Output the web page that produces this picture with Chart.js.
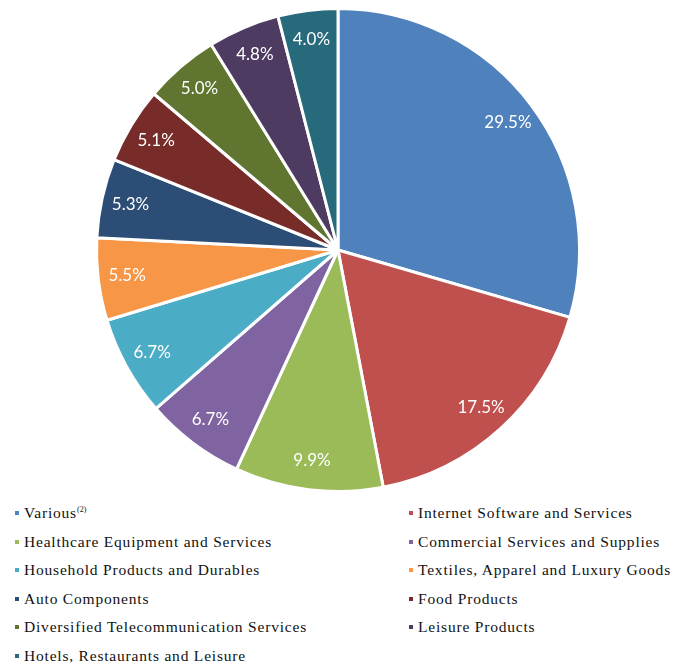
<!DOCTYPE html>
<html>
<head>
<meta charset="utf-8">
<script src="https://cdn.jsdelivr.net/npm/chart.js@4"></script>
<style>
  html, body { margin: 0; padding: 0; background: #fff; }
  #wrap { position: relative; width: 692px; height: 670px; }
  #pieBox { position: absolute; left: 0; top: 0; width: 692px; height: 500px; }
  #legend { position: absolute; left: 0; top: 500px; width: 692px; font-family: "Liberation Serif", "Times New Roman", serif; font-size: 15.5px; letter-spacing: 0.8px; color: #111; }
  .lg { position: absolute; white-space: nowrap; line-height: 18px; height: 18px; }
  .lg i { position: absolute; left: -9px; top: 7px; width: 4px; height: 4px; }
  .lg sup { font-size: 8px; line-height: 0; position: relative; top: -6px; vertical-align: baseline; letter-spacing: 0; }
</style>
</head>
<body>
<div id="wrap">
  <div id="pieBox"><canvas id="pie" width="692" height="500"></canvas></div>
  <div id="legend"></div>
</div>
<script>
var sectors = [
  "Various", "Internet Software and Services", "Healthcare Equipment and Services",
  "Commercial Services and Supplies", "Household Products and Durables",
  "Textiles, Apparel and Luxury Goods", "Auto Components", "Food Products",
  "Diversified Telecommunication Services", "Leisure Products", "Hotels, Restaurants and Leisure"
];
var shares = [29.5, 17.5, 9.9, 6.7, 6.7, 5.5, 5.3, 5.1, 5.0, 4.8, 4.0];
var colors = ["#4f81bd", "#c0504d", "#9bbb59", "#8064a2", "#4bacc6", "#f79646",
              "#2c4d75", "#772c2a", "#5f7530", "#4d3b62", "#276a7c"];

// labels drawn inside each slice near the rim
var sliceLabels = {
  id: "sliceLabels",
  afterDatasetsDraw: function (chart) {
    var c = chart.ctx;
    var arcs = chart.getDatasetMeta(0).data;
    c.save();
    c.font = "17px Lato, 'Open Sans', sans-serif";
    c.fillStyle = "#fff";
    c.textAlign = "center";
    c.textBaseline = "middle";
    arcs.forEach(function (a, i) {
      var mid = (a.startAngle + a.endAngle) / 2;
      var r = a.outerRadius * 0.88;
      c.fillText(shares[i].toFixed(1) + "%", a.x + Math.cos(mid) * r, a.y + Math.sin(mid) * r);
    });
    c.restore();
  }
};

new Chart(document.getElementById("pie"), {
  type: "pie",
  data: {
    labels: sectors,
    datasets: [{
      data: shares,
      backgroundColor: colors,
      borderColor: "#fff",
      borderWidth: 3
    }]
  },
  options: {
    responsive: false,
    animation: false,
    layout: { padding: { left: 0, right: 16, top: 7, bottom: 7 } },
    plugins: { legend: { display: false }, tooltip: { enabled: false } }
  },
  plugins: [sliceLabels]
});

// two column legend, row-major like the original
var lg = document.getElementById("legend");
sectors.forEach(function (name, i) {
  var d = document.createElement("div");
  d.className = "lg";
  d.style.left = (i % 2 ? 418 : 24) + "px";
  d.style.top = (4 + Math.floor(i / 2) * 28.5) + "px";
  d.innerHTML = "<i style='background:" + colors[i] + "'></i>" + name + (i === 0 ? "<sup>(2)</sup>" : "");
  lg.appendChild(d);
});
</script>
</body>
</html>
